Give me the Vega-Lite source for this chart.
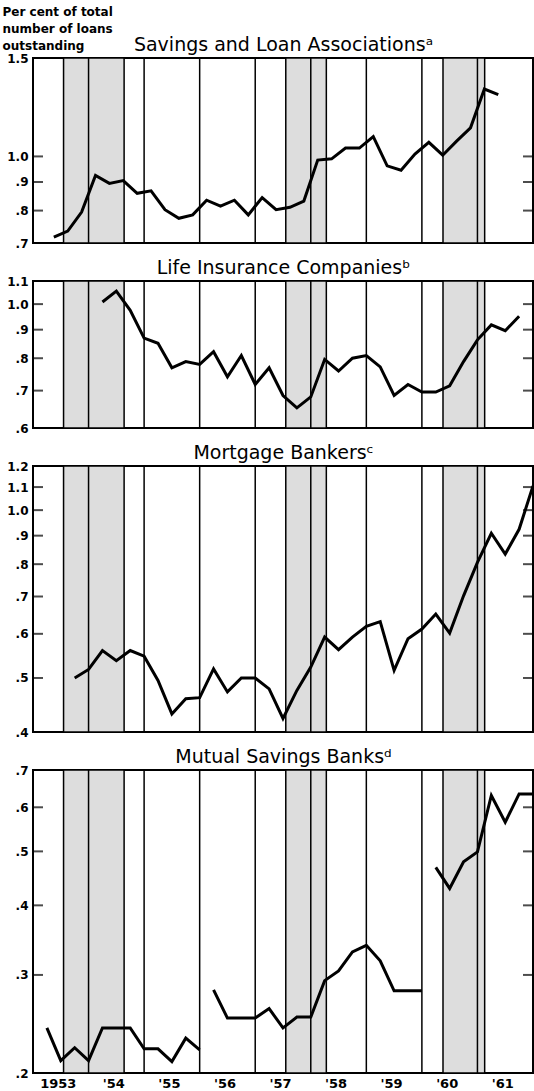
{
  "$schema": "https://vega.github.io/schema/vega-lite/v6.json",
  "padding": {"left": 1, "top": 4, "right": 1, "bottom": 0},
  "background": "white",
  "bounds": "flush",
  "spacing": 38,
  "config": {
    "view": {"stroke": "black", "strokeWidth": 2},
    "font": "DejaVu Sans",
    "axis": {"domain": false, "grid": false, "labelFont": "DejaVu Sans", "labelFontWeight": "bold", "labelFontSize": 12, "labelColor": "black", "tickColor": "black", "titleColor": "black", "labelOverlap": false}
  },
  "datasets": {
    "recessions": [
      {"start": 1953.55, "end": 1954.64},
      {"start": 1957.55, "end": 1958.28},
      {"start": 1960.38, "end": 1961.13}
    ],
    "years": [
      {"year": 1954}, {"year": 1955}, {"year": 1956}, {"year": 1957},
      {"year": 1958}, {"year": 1959}, {"year": 1960}, {"year": 1961}
    ],
    "ticks": [
      {"panel": "S", "value": 0.8}, {"panel": "S", "value": 0.9}, {"panel": "S", "value": 1.0},
      {"panel": "L", "value": 0.7}, {"panel": "L", "value": 0.8}, {"panel": "L", "value": 0.9}, {"panel": "L", "value": 1.0},
      {"panel": "M", "value": 0.5}, {"panel": "M", "value": 0.6}, {"panel": "M", "value": 0.7}, {"panel": "M", "value": 0.8},
      {"panel": "M", "value": 0.9}, {"panel": "M", "value": 1.0}, {"panel": "M", "value": 1.1},
      {"panel": "B", "value": 0.3}, {"panel": "B", "value": 0.4}, {"panel": "B", "value": 0.5}, {"panel": "B", "value": 0.6}
    ],
    "series": [
      {"panel": "S", "year": 1953.375, "value": 0.717, "segment": 1},
      {"panel": "S", "year": 1953.625, "value": 0.735, "segment": 1},
      {"panel": "S", "year": 1953.875, "value": 0.795, "segment": 1},
      {"panel": "S", "year": 1954.125, "value": 0.925, "segment": 1},
      {"panel": "S", "year": 1954.375, "value": 0.895, "segment": 1},
      {"panel": "S", "year": 1954.625, "value": 0.905, "segment": 1},
      {"panel": "S", "year": 1954.875, "value": 0.859, "segment": 1},
      {"panel": "S", "year": 1955.125, "value": 0.868, "segment": 1},
      {"panel": "S", "year": 1955.375, "value": 0.803, "segment": 1},
      {"panel": "S", "year": 1955.625, "value": 0.775, "segment": 1},
      {"panel": "S", "year": 1955.875, "value": 0.786, "segment": 1},
      {"panel": "S", "year": 1956.125, "value": 0.835, "segment": 1},
      {"panel": "S", "year": 1956.375, "value": 0.815, "segment": 1},
      {"panel": "S", "year": 1956.625, "value": 0.835, "segment": 1},
      {"panel": "S", "year": 1956.875, "value": 0.786, "segment": 1},
      {"panel": "S", "year": 1957.125, "value": 0.844, "segment": 1},
      {"panel": "S", "year": 1957.375, "value": 0.803, "segment": 1},
      {"panel": "S", "year": 1957.625, "value": 0.811, "segment": 1},
      {"panel": "S", "year": 1957.875, "value": 0.832, "segment": 1},
      {"panel": "S", "year": 1958.125, "value": 0.985, "segment": 1},
      {"panel": "S", "year": 1958.375, "value": 0.99, "segment": 1},
      {"panel": "S", "year": 1958.625, "value": 1.035, "segment": 1},
      {"panel": "S", "year": 1958.875, "value": 1.035, "segment": 1},
      {"panel": "S", "year": 1959.125, "value": 1.085, "segment": 1},
      {"panel": "S", "year": 1959.375, "value": 0.962, "segment": 1},
      {"panel": "S", "year": 1959.625, "value": 0.945, "segment": 1},
      {"panel": "S", "year": 1959.875, "value": 1.01, "segment": 1},
      {"panel": "S", "year": 1960.125, "value": 1.06, "segment": 1},
      {"panel": "S", "year": 1960.375, "value": 1.005, "segment": 1},
      {"panel": "S", "year": 1960.625, "value": 1.065, "segment": 1},
      {"panel": "S", "year": 1960.875, "value": 1.125, "segment": 1},
      {"panel": "S", "year": 1961.125, "value": 1.32, "segment": 1},
      {"panel": "S", "year": 1961.375, "value": 1.29, "segment": 1},

      {"panel": "L", "year": 1954.25, "value": 1.009, "segment": 1},
      {"panel": "L", "year": 1954.5, "value": 1.055, "segment": 1},
      {"panel": "L", "year": 1954.75, "value": 0.975, "segment": 1},
      {"panel": "L", "year": 1955.0, "value": 0.869, "segment": 1},
      {"panel": "L", "year": 1955.25, "value": 0.851, "segment": 1},
      {"panel": "L", "year": 1955.5, "value": 0.769, "segment": 1},
      {"panel": "L", "year": 1955.75, "value": 0.789, "segment": 1},
      {"panel": "L", "year": 1956.0, "value": 0.78, "segment": 1},
      {"panel": "L", "year": 1956.25, "value": 0.822, "segment": 1},
      {"panel": "L", "year": 1956.5, "value": 0.741, "segment": 1},
      {"panel": "L", "year": 1956.75, "value": 0.809, "segment": 1},
      {"panel": "L", "year": 1957.0, "value": 0.718, "segment": 1},
      {"panel": "L", "year": 1957.25, "value": 0.769, "segment": 1},
      {"panel": "L", "year": 1957.5, "value": 0.686, "segment": 1},
      {"panel": "L", "year": 1957.75, "value": 0.652, "segment": 1},
      {"panel": "L", "year": 1958.0, "value": 0.682, "segment": 1},
      {"panel": "L", "year": 1958.25, "value": 0.796, "segment": 1},
      {"panel": "L", "year": 1958.5, "value": 0.759, "segment": 1},
      {"panel": "L", "year": 1958.75, "value": 0.8, "segment": 1},
      {"panel": "L", "year": 1959.0, "value": 0.809, "segment": 1},
      {"panel": "L", "year": 1959.25, "value": 0.772, "segment": 1},
      {"panel": "L", "year": 1959.5, "value": 0.686, "segment": 1},
      {"panel": "L", "year": 1959.75, "value": 0.718, "segment": 1},
      {"panel": "L", "year": 1960.0, "value": 0.696, "segment": 1},
      {"panel": "L", "year": 1960.25, "value": 0.696, "segment": 1},
      {"panel": "L", "year": 1960.5, "value": 0.714, "segment": 1},
      {"panel": "L", "year": 1960.75, "value": 0.789, "segment": 1},
      {"panel": "L", "year": 1961.0, "value": 0.863, "segment": 1},
      {"panel": "L", "year": 1961.25, "value": 0.918, "segment": 1},
      {"panel": "L", "year": 1961.5, "value": 0.896, "segment": 1},
      {"panel": "L", "year": 1961.75, "value": 0.951, "segment": 1},

      {"panel": "M", "year": 1953.75, "value": 0.5, "segment": 1},
      {"panel": "M", "year": 1954.0, "value": 0.518, "segment": 1},
      {"panel": "M", "year": 1954.25, "value": 0.56, "segment": 1},
      {"panel": "M", "year": 1954.5, "value": 0.537, "segment": 1},
      {"panel": "M", "year": 1954.75, "value": 0.56, "segment": 1},
      {"panel": "M", "year": 1955.0, "value": 0.547, "segment": 1},
      {"panel": "M", "year": 1955.25, "value": 0.495, "segment": 1},
      {"panel": "M", "year": 1955.5, "value": 0.431, "segment": 1},
      {"panel": "M", "year": 1955.75, "value": 0.459, "segment": 1},
      {"panel": "M", "year": 1956.0, "value": 0.461, "segment": 1},
      {"panel": "M", "year": 1956.25, "value": 0.519, "segment": 1},
      {"panel": "M", "year": 1956.5, "value": 0.472, "segment": 1},
      {"panel": "M", "year": 1956.75, "value": 0.5, "segment": 1},
      {"panel": "M", "year": 1957.0, "value": 0.5, "segment": 1},
      {"panel": "M", "year": 1957.25, "value": 0.478, "segment": 1},
      {"panel": "M", "year": 1957.5, "value": 0.423, "segment": 1},
      {"panel": "M", "year": 1957.75, "value": 0.475, "segment": 1},
      {"panel": "M", "year": 1958.0, "value": 0.523, "segment": 1},
      {"panel": "M", "year": 1958.25, "value": 0.592, "segment": 1},
      {"panel": "M", "year": 1958.5, "value": 0.562, "segment": 1},
      {"panel": "M", "year": 1958.75, "value": 0.592, "segment": 1},
      {"panel": "M", "year": 1959.0, "value": 0.619, "segment": 1},
      {"panel": "M", "year": 1959.25, "value": 0.631, "segment": 1},
      {"panel": "M", "year": 1959.5, "value": 0.516, "segment": 1},
      {"panel": "M", "year": 1959.75, "value": 0.588, "segment": 1},
      {"panel": "M", "year": 1960.0, "value": 0.612, "segment": 1},
      {"panel": "M", "year": 1960.25, "value": 0.651, "segment": 1},
      {"panel": "M", "year": 1960.5, "value": 0.602, "segment": 1},
      {"panel": "M", "year": 1960.75, "value": 0.702, "segment": 1},
      {"panel": "M", "year": 1961.0, "value": 0.806, "segment": 1},
      {"panel": "M", "year": 1961.25, "value": 0.909, "segment": 1},
      {"panel": "M", "year": 1961.5, "value": 0.834, "segment": 1},
      {"panel": "M", "year": 1961.75, "value": 0.924, "segment": 1},
      {"panel": "M", "year": 1962.0, "value": 1.105, "segment": 1},

      {"panel": "B", "year": 1953.25, "value": 0.241, "segment": 1},
      {"panel": "B", "year": 1953.5, "value": 0.2105, "segment": 1},
      {"panel": "B", "year": 1953.75, "value": 0.222, "segment": 1},
      {"panel": "B", "year": 1954.0, "value": 0.2105, "segment": 1},
      {"panel": "B", "year": 1954.25, "value": 0.241, "segment": 1},
      {"panel": "B", "year": 1954.5, "value": 0.241, "segment": 1},
      {"panel": "B", "year": 1954.75, "value": 0.241, "segment": 1},
      {"panel": "B", "year": 1955.0, "value": 0.221, "segment": 1},
      {"panel": "B", "year": 1955.25, "value": 0.221, "segment": 1},
      {"panel": "B", "year": 1955.5, "value": 0.2097, "segment": 1},
      {"panel": "B", "year": 1955.75, "value": 0.231, "segment": 1},
      {"panel": "B", "year": 1956.0, "value": 0.22, "segment": 1},
      {"panel": "B", "year": 1956.25, "value": 0.282, "segment": 2},
      {"panel": "B", "year": 1956.5, "value": 0.251, "segment": 2},
      {"panel": "B", "year": 1956.75, "value": 0.251, "segment": 2},
      {"panel": "B", "year": 1957.0, "value": 0.251, "segment": 2},
      {"panel": "B", "year": 1957.25, "value": 0.261, "segment": 2},
      {"panel": "B", "year": 1957.5, "value": 0.241, "segment": 2},
      {"panel": "B", "year": 1957.75, "value": 0.252, "segment": 2},
      {"panel": "B", "year": 1958.0, "value": 0.252, "segment": 2},
      {"panel": "B", "year": 1958.25, "value": 0.293, "segment": 2},
      {"panel": "B", "year": 1958.5, "value": 0.305, "segment": 2},
      {"panel": "B", "year": 1958.75, "value": 0.33, "segment": 2},
      {"panel": "B", "year": 1959.0, "value": 0.339, "segment": 2},
      {"panel": "B", "year": 1959.25, "value": 0.318, "segment": 2},
      {"panel": "B", "year": 1959.5, "value": 0.281, "segment": 2},
      {"panel": "B", "year": 1959.75, "value": 0.281, "segment": 2},
      {"panel": "B", "year": 1960.0, "value": 0.281, "segment": 2},
      {"panel": "B", "year": 1960.25, "value": 0.468, "segment": 3},
      {"panel": "B", "year": 1960.5, "value": 0.429, "segment": 3},
      {"panel": "B", "year": 1960.75, "value": 0.479, "segment": 3},
      {"panel": "B", "year": 1961.0, "value": 0.499, "segment": 3},
      {"panel": "B", "year": 1961.25, "value": 0.63, "segment": 3},
      {"panel": "B", "year": 1961.5, "value": 0.564, "segment": 3},
      {"panel": "B", "year": 1961.75, "value": 0.634, "segment": 3},
      {"panel": "B", "year": 1962.0, "value": 0.634, "segment": 3}
    ]
  },
  "vconcat": [
    {
      "width": 500, "height": 185,
      "resolve": {"axis": {"x": "independent", "y": "independent"}},
      "layer": [
        {
          "data": {"name": "recessions"},
          "mark": {"type": "rect", "fill": "#dddddd", "stroke": "black", "strokeWidth": 1.5},
          "encoding": {
            "x": {"field": "start", "type": "quantitative", "scale": {"domain": [1953, 1962], "nice": false, "zero": false},
                  "axis": {"orient": "top", "title": "Savings and Loan Associationsᵃ", "labels": false, "ticks": false, "domain": false, "titleFont": "DejaVu Sans", "titleFontSize": 19, "titleFontWeight": "normal", "titlePadding": 4}},
            "x2": {"field": "end"}
          }
        },
        {
          "data": {"name": "years"},
          "mark": {"type": "rule", "color": "black", "strokeWidth": 1.5},
          "encoding": {"x": {"field": "year", "type": "quantitative", "axis": null}}
        },
        {
          "data": {"name": "ticks"},
          "transform": [{"filter": "datum.panel == 'S'"}],
          "mark": {"type": "tick", "orient": "horizontal", "size": 10, "thickness": 2, "color": "black"},
          "encoding": {
            "x": {"datum": 1953.09, "type": "quantitative", "axis": null},
            "y": {"field": "value", "type": "quantitative", "scale": {"type": "log", "domain": [0.7, 1.5]}, "axis": null}
          }
        },
        {
          "data": {"name": "ticks"},
          "transform": [{"filter": "datum.panel == 'S'"}],
          "mark": {"type": "tick", "orient": "horizontal", "size": 10, "thickness": 2, "color": "black"},
          "encoding": {
            "x": {"datum": 1961.91, "type": "quantitative", "axis": null},
            "y": {"field": "value", "type": "quantitative", "scale": {"type": "log", "domain": [0.7, 1.5]}, "axis": null}
          }
        },
        {
          "data": {"name": "series"},
          "transform": [{"filter": "datum.panel == 'S'"}],
          "mark": {"type": "line", "color": "black", "strokeWidth": 3},
          "encoding": {
            "x": {"field": "year", "type": "quantitative", "axis": null},
            "y": {"field": "value", "type": "quantitative", "scale": {"type": "log", "domain": [0.7, 1.5]},
                  "axis": {"orient": "left", "values": [0.7, 0.8, 0.9, 1.0, 1.5], "ticks": false, "labelPadding": 5,
                           "labelExpr": "datum.value < 1 ? substring(format(datum.value, '.1f'), 1) : format(datum.value, '.1f')",
                           "title": ["Per cent of total", "number of loans", "outstanding"], "titleAngle": 0, "titleAlign": "left", "titleBaseline": "top",
                           "titleX": -31, "titleY": -52, "titleFont": "DejaVu Sans", "titleFontSize": 12, "titleFontWeight": "bold", "titleLineHeight": 17}},
            "detail": {"field": "segment"}
          }
        }
      ]
    },
    {
      "width": 500, "height": 147,
      "resolve": {"axis": {"x": "independent", "y": "independent"}},
      "layer": [
        {
          "data": {"name": "recessions"},
          "mark": {"type": "rect", "fill": "#dddddd", "stroke": "black", "strokeWidth": 1.5},
          "encoding": {
            "x": {"field": "start", "type": "quantitative", "scale": {"domain": [1953, 1962], "nice": false, "zero": false},
                  "axis": {"orient": "top", "title": "Life Insurance Companiesᵇ", "labels": false, "ticks": false, "domain": false, "titleFont": "DejaVu Sans", "titleFontSize": 19, "titleFontWeight": "normal", "titlePadding": 4}},
            "x2": {"field": "end"}
          }
        },
        {
          "data": {"name": "years"},
          "mark": {"type": "rule", "color": "black", "strokeWidth": 1.5},
          "encoding": {"x": {"field": "year", "type": "quantitative", "axis": null}}
        },
        {
          "data": {"name": "ticks"},
          "transform": [{"filter": "datum.panel == 'L'"}],
          "mark": {"type": "tick", "orient": "horizontal", "size": 10, "thickness": 2, "color": "black"},
          "encoding": {
            "x": {"datum": 1953.09, "type": "quantitative", "axis": null},
            "y": {"field": "value", "type": "quantitative", "scale": {"type": "log", "domain": [0.6, 1.1]}, "axis": null}
          }
        },
        {
          "data": {"name": "ticks"},
          "transform": [{"filter": "datum.panel == 'L'"}],
          "mark": {"type": "tick", "orient": "horizontal", "size": 10, "thickness": 2, "color": "black"},
          "encoding": {
            "x": {"datum": 1961.91, "type": "quantitative", "axis": null},
            "y": {"field": "value", "type": "quantitative", "scale": {"type": "log", "domain": [0.6, 1.1]}, "axis": null}
          }
        },
        {
          "data": {"name": "series"},
          "transform": [{"filter": "datum.panel == 'L'"}],
          "mark": {"type": "line", "color": "black", "strokeWidth": 3},
          "encoding": {
            "x": {"field": "year", "type": "quantitative", "axis": null},
            "y": {"field": "value", "type": "quantitative", "scale": {"type": "log", "domain": [0.6, 1.1]},
                  "axis": {"orient": "left", "values": [0.6, 0.7, 0.8, 0.9, 1.0, 1.1], "ticks": false, "labelPadding": 5,
                           "labelExpr": "datum.value < 1 ? substring(format(datum.value, '.1f'), 1) : format(datum.value, '.1f')", "title": null}},
            "detail": {"field": "segment"}
          }
        }
      ]
    },
    {
      "width": 500, "height": 266,
      "resolve": {"axis": {"x": "independent", "y": "independent"}},
      "layer": [
        {
          "data": {"name": "recessions"},
          "mark": {"type": "rect", "fill": "#dddddd", "stroke": "black", "strokeWidth": 1.5},
          "encoding": {
            "x": {"field": "start", "type": "quantitative", "scale": {"domain": [1953, 1962], "nice": false, "zero": false},
                  "axis": {"orient": "top", "title": "Mortgage Bankersᶜ", "labels": false, "ticks": false, "domain": false, "titleFont": "DejaVu Sans", "titleFontSize": 19, "titleFontWeight": "normal", "titlePadding": 4}},
            "x2": {"field": "end"}
          }
        },
        {
          "data": {"name": "years"},
          "mark": {"type": "rule", "color": "black", "strokeWidth": 1.5},
          "encoding": {"x": {"field": "year", "type": "quantitative", "axis": null}}
        },
        {
          "data": {"name": "ticks"},
          "transform": [{"filter": "datum.panel == 'M'"}],
          "mark": {"type": "tick", "orient": "horizontal", "size": 10, "thickness": 2, "color": "black"},
          "encoding": {
            "x": {"datum": 1953.09, "type": "quantitative", "axis": null},
            "y": {"field": "value", "type": "quantitative", "scale": {"type": "log", "domain": [0.4, 1.2]}, "axis": null}
          }
        },
        {
          "data": {"name": "ticks"},
          "transform": [{"filter": "datum.panel == 'M'"}],
          "mark": {"type": "tick", "orient": "horizontal", "size": 10, "thickness": 2, "color": "black"},
          "encoding": {
            "x": {"datum": 1961.91, "type": "quantitative", "axis": null},
            "y": {"field": "value", "type": "quantitative", "scale": {"type": "log", "domain": [0.4, 1.2]}, "axis": null}
          }
        },
        {
          "data": {"name": "series"},
          "transform": [{"filter": "datum.panel == 'M'"}],
          "mark": {"type": "line", "color": "black", "strokeWidth": 3},
          "encoding": {
            "x": {"field": "year", "type": "quantitative", "axis": null},
            "y": {"field": "value", "type": "quantitative", "scale": {"type": "log", "domain": [0.4, 1.2]},
                  "axis": {"orient": "left", "values": [0.4, 0.5, 0.6, 0.7, 0.8, 0.9, 1.0, 1.1, 1.2], "ticks": false, "labelPadding": 5,
                           "labelExpr": "datum.value < 1 ? substring(format(datum.value, '.1f'), 1) : format(datum.value, '.1f')", "title": null}},
            "detail": {"field": "segment"}
          }
        }
      ]
    },
    {
      "width": 500, "height": 303,
      "resolve": {"axis": {"x": "independent", "y": "independent"}},
      "layer": [
        {
          "data": {"name": "recessions"},
          "mark": {"type": "rect", "fill": "#dddddd", "stroke": "black", "strokeWidth": 1.5},
          "encoding": {
            "x": {"field": "start", "type": "quantitative", "scale": {"domain": [1953, 1962], "nice": false, "zero": false},
                  "axis": {"orient": "top", "title": "Mutual Savings Banksᵈ", "labels": false, "ticks": false, "domain": false, "titleFont": "DejaVu Sans", "titleFontSize": 19, "titleFontWeight": "normal", "titlePadding": 4}},
            "x2": {"field": "end"}
          }
        },
        {
          "data": {"name": "years"},
          "mark": {"type": "rule", "color": "black", "strokeWidth": 1.5},
          "encoding": {"x": {"field": "year", "type": "quantitative", "axis": null}}
        },
        {
          "data": {"name": "ticks"},
          "transform": [{"filter": "datum.panel == 'B'"}],
          "mark": {"type": "tick", "orient": "horizontal", "size": 10, "thickness": 2, "color": "black"},
          "encoding": {
            "x": {"datum": 1953.09, "type": "quantitative", "axis": null},
            "y": {"field": "value", "type": "quantitative", "scale": {"type": "log", "domain": [0.2, 0.7]}, "axis": null}
          }
        },
        {
          "data": {"name": "ticks"},
          "transform": [{"filter": "datum.panel == 'B'"}],
          "mark": {"type": "tick", "orient": "horizontal", "size": 10, "thickness": 2, "color": "black"},
          "encoding": {
            "x": {"datum": 1961.91, "type": "quantitative", "axis": null},
            "y": {"field": "value", "type": "quantitative", "scale": {"type": "log", "domain": [0.2, 0.7]}, "axis": null}
          }
        },
        {
          "data": {"name": "series"},
          "transform": [{"filter": "datum.panel == 'B'"}],
          "mark": {"type": "line", "color": "black", "strokeWidth": 3},
          "encoding": {
            "x": {"field": "year", "type": "quantitative",
                  "axis": {"orient": "bottom", "values": [1953.5, 1954.5, 1955.5, 1956.5, 1957.5, 1958.5, 1959.5, 1960.5, 1961.5], "ticks": false, "domain": false, "labelPadding": 4, "labelFontSize": 13, "labelFlush": false, "labelOffset": -3,
                           "labelExpr": "datum.value < 1954 ? '1953' : \"'\" + substring(toString(floor(datum.value)), 2, 4)", "title": null}},
            "y": {"field": "value", "type": "quantitative", "scale": {"type": "log", "domain": [0.2, 0.7]},
                  "axis": {"orient": "left", "values": [0.2, 0.3, 0.4, 0.5, 0.6, 0.7], "ticks": false, "labelPadding": 5,
                           "labelExpr": "datum.value < 1 ? substring(format(datum.value, '.1f'), 1) : format(datum.value, '.1f')", "title": null}},
            "detail": {"field": "segment"}
          }
        }
      ]
    }
  ]
}
